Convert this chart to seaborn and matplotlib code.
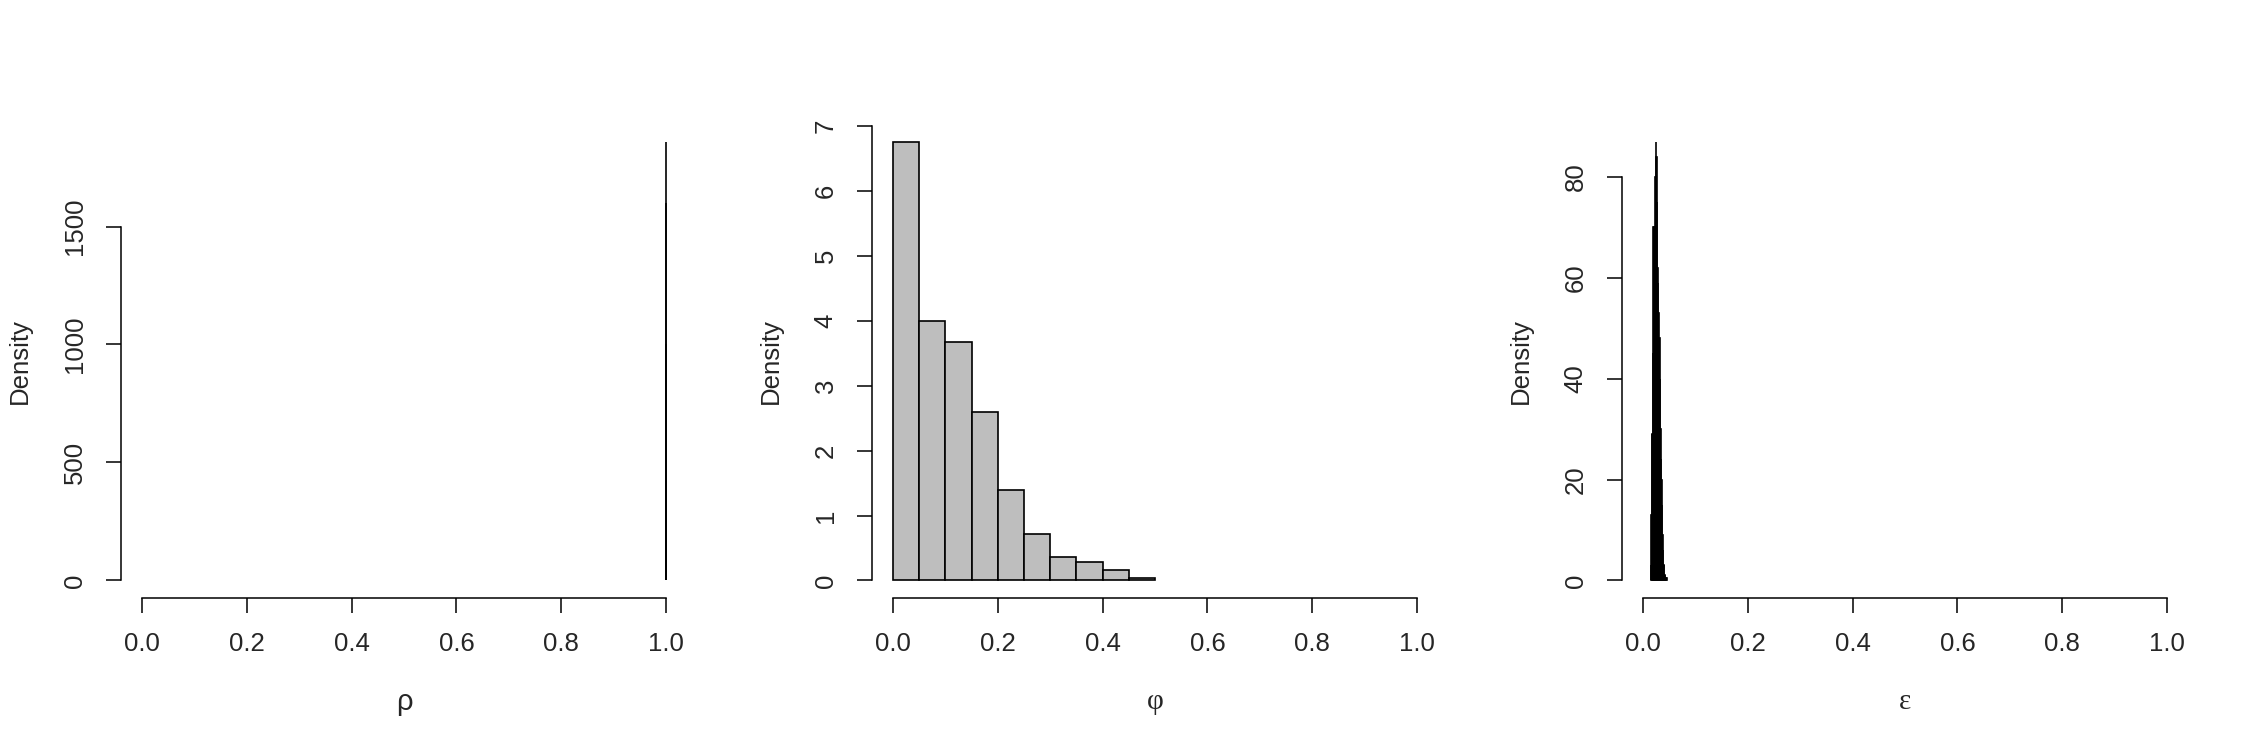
import numpy as np
import pandas as pd
import matplotlib
matplotlib.use("Agg")
import matplotlib.pyplot as plt
import seaborn as sns

sns.set_style("white")
plt.rcParams["font.family"] = ["Liberation Sans", "DejaVu Sans"]

# rho: everything piled up right at 1.0
rho_edges = [0.9990, 0.9992, 0.9994, 0.9996, 0.9998, 1.0000]
rho_dens = [120, 420, 1000, 1600, 1860]

# phi: bins of width 0.05
phi_edges = [0.0, 0.05, 0.10, 0.15, 0.20, 0.25, 0.30, 0.35, 0.40, 0.45, 0.50]
phi_dens = [6.76, 4.0, 3.68, 2.6, 1.4, 0.72, 0.36, 0.28, 0.16, 0.04]

# epsilon: narrow spike near 0.02-0.04
eps_edges = [0.015, 0.016, 0.017, 0.018, 0.019, 0.020, 0.021, 0.022, 0.023, 0.024,
             0.025, 0.026, 0.027, 0.028, 0.029, 0.030, 0.031, 0.032, 0.033, 0.034,
             0.035, 0.036, 0.037, 0.038, 0.039, 0.040, 0.041, 0.042, 0.043, 0.044, 0.045]
eps_dens = [3, 13, 29, 29, 45, 70, 70, 70, 80, 87,
            84, 75, 62, 59, 53, 48, 48, 40, 30, 24,
            20, 15, 9, 6, 3, 3, 1, 1, 0.5, 0.5]

panels = [
    (rho_edges, rho_dens, [0, 500, 1000, 1500], "ρ", "Liberation Sans"),
    (phi_edges, phi_dens, [0, 1, 2, 3, 4, 5, 6, 7], "φ", "Liberation Serif"),
    (eps_edges, eps_dens, [0, 20, 40, 60, 80], "ε", "Liberation Serif"),
]

W, H = 2250, 750
lefts = [121, 872, 1622]
pw, top, bottom = 566, 124, 598

fig = plt.figure(figsize=(22.5, 7.5), dpi=100)
for i, (edges, dens, yticks, xlab, fam) in enumerate(panels):
    ax = fig.add_axes([lefts[i] / W, 1 - bottom / H, pw / W, (bottom - top) / H])
    e = np.array(edges)
    df = pd.DataFrame({"x": (e[:-1] + e[1:]) / 2, "w": dens})
    sns.histplot(data=df, x="x", weights="w", bins=list(edges), stat="count",
                 color="#BEBEBE", edgecolor="black", linewidth=1.2, alpha=1,
                 ax=ax)
    ymax = max(dens)
    ax.set_xlim(-0.04, 1.04)
    ax.set_ylim(-0.04 * ymax, 1.04 * ymax)
    ax.set_xticks([0.0, 0.2, 0.4, 0.6, 0.8, 1.0])
    ax.set_xticklabels(["0.0", "0.2", "0.4", "0.6", "0.8", "1.0"])
    ax.set_yticks(yticks)
    ax.set_yticklabels([str(t) for t in yticks], rotation=90, va="center")
    for s in ["top", "right"]:
        ax.spines[s].set_visible(False)
    ax.spines["left"].set_bounds(yticks[0], yticks[-1])
    ax.spines["bottom"].set_bounds(0, 1)
    for s in ["left", "bottom"]:
        ax.spines[s].set_color("black")
        ax.spines[s].set_linewidth(1.1)
    ax.tick_params(axis="both", direction="out", length=10.8, width=1.1,
                   color="black", labelsize=18.5, pad=14, left=True, bottom=True)
    ax.set_xlabel(xlab, fontsize=21, family=fam)
    ax.xaxis.label.set_va("center")
    ax.xaxis.set_label_coords(0.5, -0.219)
    ax.set_ylabel("Density", fontsize=18.5)
    ax.yaxis.label.set_va("center")
    ax.yaxis.set_label_coords(-0.179, 0.5)
    ax.grid(False)

fig.savefig("out.png", dpi=100, facecolor="white")
